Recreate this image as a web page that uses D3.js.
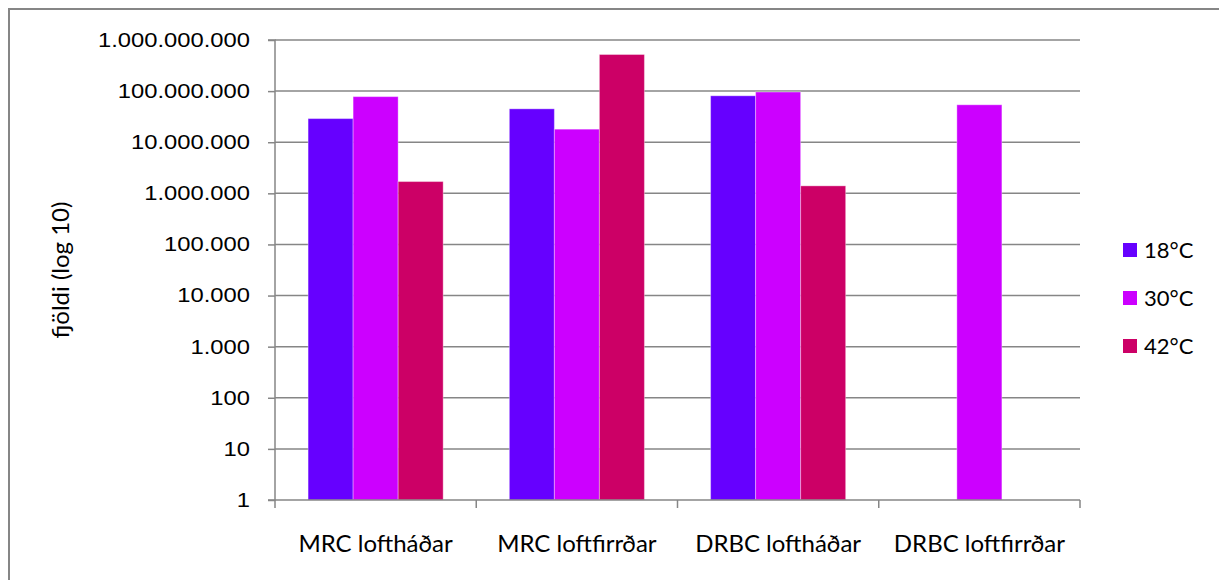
<!DOCTYPE html>
<html>
<head>
<meta charset="utf-8">
<script src="https://cdn.jsdelivr.net/npm/d3@7"></script>
<style>
  html, body { margin: 0; padding: 0; background: #fff; }
  svg { display: block; }
</style>
</head>
<body>
<svg id="chart" width="1219" height="580"></svg>
<script>
// Category labels along the x axis
const categories = ["MRC loftháðar", "MRC loftfirrðar", "DRBC loftháðar", "DRBC loftfirrðar"];
// Series (temperature) names
const seriesNames = ["18°C", "30°C", "42°C"];
// Counts per category for each temperature (null = no bar)
const values18 = [29000000, 45000000, 81000000, null];
const values30 = [78000000, 18000000, 96000000, 54000000];
const values42 = [1700000, 520000000, 1400000, null];
// Log-axis tick values and their labels
const tickValues = [1, 10, 100, 1000, 10000, 100000, 1000000, 10000000, 100000000, 1000000000];
const tickLabels = ["1", "10", "100", "1.000", "10.000", "100.000", "1.000.000", "10.000.000", "100.000.000", "1.000.000.000"];
const colors = ["#6600FF", "#CC00FF", "#CC0066"];

const seriesValues = [values18, values30, values42];

const svg = d3.select("#chart");
const plot = { left: 275, right: 1080, top: 40, bottom: 500 };
const axisColor = "#868686";

// Outer chart frame (runs off the right and bottom edges)
svg.append("rect")
  .attr("x", 9).attr("y", 9)
  .attr("width", 1230).attr("height", 600)
  .attr("fill", "none")
  .attr("stroke", axisColor)
  .attr("stroke-width", 2);

const x = d3.scaleBand()
  .domain(categories)
  .range([plot.left, plot.right])
  .paddingInner(0)
  .paddingOuter(0);

const xInner = d3.scaleBand()
  .domain(seriesNames)
  .range([0, x.bandwidth()])
  .paddingOuter(0.735)
  .paddingInner(0);

const y = d3.scaleLog()
  .domain([1, 1e9])
  .range([plot.bottom, plot.top]);

// Horizontal gridlines
svg.append("g")
  .selectAll("line")
  .data(tickValues.slice(1))
  .join("line")
  .attr("x1", plot.left).attr("x2", plot.right)
  .attr("y1", d => y(d)).attr("y2", d => y(d))
  .attr("stroke", axisColor)
  .attr("stroke-width", 1.5);

// Bars
const groups = svg.append("g")
  .selectAll("g")
  .data(seriesNames)
  .join("g")
  .attr("fill", (d, i) => colors[i]);

groups.selectAll("rect")
  .data((s, si) => categories.map((c, ci) => ({ c, s, v: seriesValues[si][ci] })).filter(d => d.v != null))
  .join("rect")
  .attr("x", d => x(d.c) + xInner(d.s))
  .attr("width", xInner.bandwidth())
  .attr("y", d => y(d.v))
  .attr("height", d => y(1) - y(d.v))
  .attr("stroke", "rgba(255,255,255,0.35)")
  .attr("stroke-width", 1);

// Y axis
const yAxis = d3.axisLeft(y)
  .tickValues(tickValues)
  .tickFormat((d, i) => tickLabels[i])
  .tickSize(7)
  .tickPadding(18);

const gy = svg.append("g")
  .attr("transform", `translate(${plot.left},0)`)
  .call(yAxis);
gy.select(".domain").attr("stroke", axisColor).attr("stroke-width", 1.5)
  .attr("d", `M-7,${plot.top}H0V${plot.bottom}H-7`);
gy.selectAll(".tick line").attr("stroke", axisColor).attr("stroke-width", 1.5);
const yLabels = gy.selectAll(".tick text")
  .attr("fill", "#000")
  .attr("font-family", "'Liberation Sans', Arial, sans-serif")
  .attr("font-size", 20);
// Widen the tick labels slightly so the longest one spans 152px
const longest = d3.max(yLabels.nodes(), n => n.getComputedTextLength());
const stretch = 152 / longest;
yLabels.each(function () {
  const len = this.getComputedTextLength();
  d3.select(this).attr("textLength", len * stretch).attr("lengthAdjust", "spacingAndGlyphs");
});

// X axis
const xAxis = d3.axisBottom(x)
  .tickSize(0)
  .tickPadding(35);

const gx = svg.append("g")
  .attr("transform", `translate(0,${plot.bottom})`)
  .call(xAxis);
gx.select(".domain").attr("stroke", axisColor).attr("stroke-width", 1.5)
  .attr("d", `M${plot.left},0H${plot.right}`);
gx.selectAll(".tick text")
  .attr("fill", "#000")
  .attr("font-family", "Lato, 'Open Sans', sans-serif")
  .attr("font-size", 24);

// Category boundary ticks
svg.append("g")
  .selectAll("line")
  .data(d3.range(categories.length + 1))
  .join("line")
  .attr("x1", i => plot.left + i * x.bandwidth())
  .attr("x2", i => plot.left + i * x.bandwidth())
  .attr("y1", plot.bottom).attr("y2", plot.bottom + 8)
  .attr("stroke", axisColor)
  .attr("stroke-width", 1.5);

// Y axis title
svg.append("text")
  .attr("transform", "translate(69,270) rotate(-90)")
  .attr("text-anchor", "middle")
  .attr("font-family", "Lato, 'Open Sans', sans-serif")
  .attr("font-size", 24)
  .text("fjöldi (log 10)");

// Legend
const legend = svg.append("g")
  .selectAll("g")
  .data(seriesNames)
  .join("g")
  .attr("transform", (d, i) => `translate(1123,${250 + i * 48})`);

legend.append("rect")
  .attr("x", 0).attr("y", -7)
  .attr("width", 14).attr("height", 14)
  .attr("fill", (d, i) => colors[i]);

legend.append("text")
  .attr("x", 21).attr("y", 0)
  .attr("dy", "0.36em")
  .attr("font-family", "Lato, 'Open Sans', sans-serif")
  .attr("font-size", 22)
  .text(d => d);
</script>
</body>
</html>
